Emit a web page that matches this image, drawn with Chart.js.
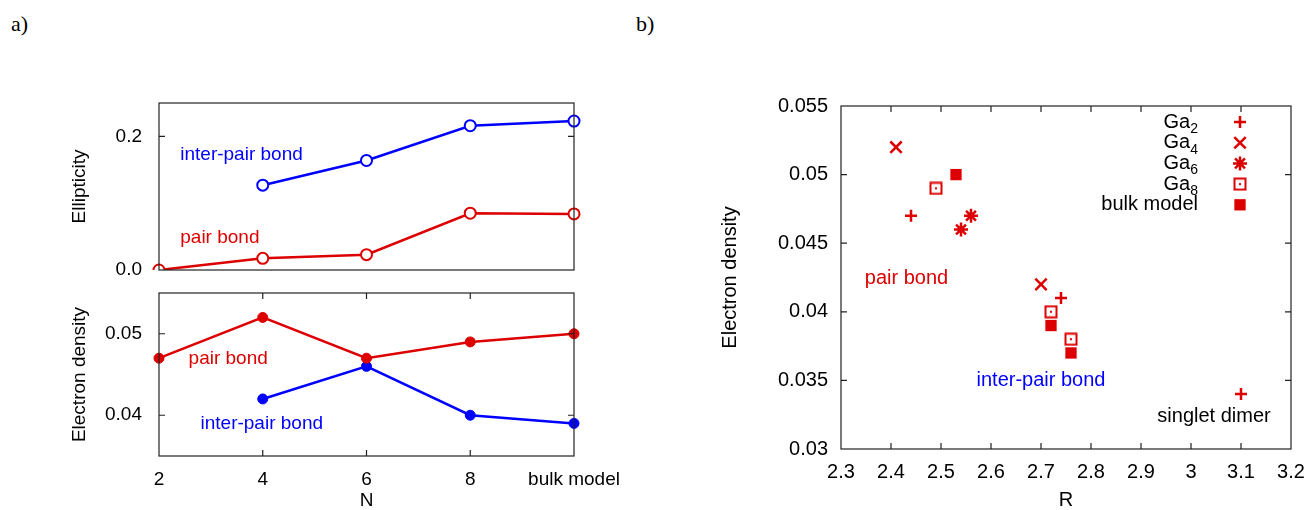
<!DOCTYPE html>
<html>
<head>
<meta charset="utf-8">
<script src="https://cdn.jsdelivr.net/npm/chart.js@4/dist/chart.umd.min.js"></script>
<style>
  body { margin: 0; background: #fff; width: 1308px; height: 510px; overflow: hidden; position: relative; }
  canvas { position: absolute; }
  .tag { position: absolute; font-family: "Liberation Serif", serif; font-size: 22px; color: #000; }
</style>
</head>
<body>
<div class="tag" style="left:11px;top:11px">a)</div>
<div class="tag" style="left:636px;top:11px">b)</div>
<canvas id="ell" width="640" height="200" style="left:0;top:80px"></canvas>
<canvas id="dens" width="640" height="230" style="left:0;top:280px"></canvas>
<canvas id="scat" width="658" height="430" style="left:650px;top:80px"></canvas>
<script>
// cluster size N (last one is the bulk model)
var sizes = ["2", "4", "6", "8", "bulk model"];

// a) top: ellipticity
var ellPair  = [0.0, 0.0175, 0.023, 0.085, 0.084];
var ellInter = [null, 0.127, 0.164, 0.216, 0.223];

// a) bottom: electron density
var densPair  = [0.047, 0.052, 0.047, 0.049, 0.050];
var densInter = [null, 0.042, 0.046, 0.040, 0.039];

// b) electron density vs bond length R
var ga2R  = [2.44, 2.74, 3.10];   var ga2Rho  = [0.047, 0.041, 0.034];
var ga4R  = [2.41, 2.70];         var ga4Rho  = [0.052, 0.042];
var ga6R  = [2.54, 2.56];         var ga6Rho  = [0.046, 0.047];
var ga8R  = [2.49, 2.72, 2.76];   var ga8Rho  = [0.049, 0.040, 0.038];
var bulkR = [2.53, 2.72, 2.76];   var bulkRho = [0.050, 0.039, 0.037];

var ellTicks = [0.0, 0.2];
var densTicks = [0.04, 0.05];
var rTicks = [2.3, 2.4, 2.5, 2.6, 2.7, 2.8, 2.9, 3.0, 3.1, 3.2];
var rhoTicks = [0.03, 0.035, 0.04, 0.045, 0.05, 0.055];

var red = "#dd0000";
var blue = "#0000ff";

Chart.defaults.font.family = "'Liberation Sans', Arial, sans-serif";
Chart.defaults.color = "#000";

function pts(xs, ys) {
  return xs.map(function (x, i) { return {x: x, y: ys[i]}; });
}

// hollow square with a dot in the middle (gnuplot look)
function dotSquare() {
  var c = document.createElement("canvas");
  c.width = 14; c.height = 14;
  var g = c.getContext("2d");
  g.strokeStyle = red; g.lineWidth = 2;
  g.strokeRect(1.5, 1.5, 11, 11);
  g.fillStyle = red;
  g.fillRect(6, 6, 2, 2);
  return c;
}

// fixed axis sizes, and no extra label padding so the plot box lands where we want
function fixW(w) {
  return function (s) { s.width = w; s.paddingTop = 0; s.paddingBottom = 0; };
}
function fixH(h) {
  return function (s) { s.height = h; s.paddingLeft = 0; s.paddingRight = 0; };
}
function useTicks(list) {
  return function (s) { s.ticks = list.map(function (v) { return {value: v}; }); };
}

// box around the plot + small ticks pointing inwards on all sides
var framePlugin = {
  id: "frame",
  afterDraw: function (chart) {
    var ctx = chart.ctx, a = chart.chartArea;
    var o = chart.options.plugins.frame || {};
    ctx.save();
    ctx.strokeStyle = "#222";
    ctx.lineWidth = 1.2;
    ctx.beginPath();
    var len = 6;
    if (o.xTicks) {
      var xs = chart.scales.x;
      o.xTicks.forEach(function (v) {
        var px = xs.getPixelForValue(v);
        if (px <= a.left + 1 || px >= a.right - 1) return;
        ctx.moveTo(px, a.bottom); ctx.lineTo(px, a.bottom - len);
        ctx.moveTo(px, a.top); ctx.lineTo(px, a.top + len);
      });
    }
    if (o.yTicks) {
      var ys = chart.scales.y;
      o.yTicks.forEach(function (v) {
        var py = ys.getPixelForValue(v);
        if (py <= a.top + 1 || py >= a.bottom - 1) return;
        ctx.moveTo(a.left, py); ctx.lineTo(a.left + len, py);
        ctx.moveTo(a.right, py); ctx.lineTo(a.right - len, py);
      });
    }
    ctx.stroke();
    ctx.strokeRect(a.left, a.top, a.right - a.left, a.bottom - a.top);
    ctx.restore();
  }
};

// text labels placed in data coordinates
var notesPlugin = {
  id: "notes",
  afterDatasetsDraw: function (chart) {
    var list = (chart.options.plugins.notes || {}).items || [];
    var ctx = chart.ctx;
    ctx.save();
    list.forEach(function (n) {
      ctx.font = (n.size || 19) + "px 'Liberation Sans', Arial, sans-serif";
      ctx.fillStyle = n.color;
      ctx.textAlign = n.align || "left";
      ctx.textBaseline = "middle";
      ctx.fillText(n.text, chart.scales.x.getPixelForValue(n.x), chart.scales.y.getPixelForValue(n.y));
    });
    ctx.restore();
  }
};

// gnuplot style key: right aligned label, marker to its right
var keyPlugin = {
  id: "key",
  afterDatasetsDraw: function (chart) {
    var o = chart.options.plugins.key;
    if (!o) return;
    var ctx = chart.ctx, a = chart.chartArea;
    var subs = "₀₁₂₃₄₅₆₇₈₉";
    var big = o.size + "px 'Liberation Sans', Arial, sans-serif";
    var small = Math.round(o.size * 0.7) + "px 'Liberation Sans', Arial, sans-serif";
    ctx.save();
    chart.data.datasets.forEach(function (ds, i) {
      var y = a.top + o.top + i * o.step;
      var base = "", sub = "";
      for (var k = 0; k < ds.label.length; k++) {
        var ch = ds.label[k], idx = subs.indexOf(ch);
        if (idx >= 0) sub += String(idx); else base += ch;
      }
      ctx.fillStyle = "#000";
      ctx.textBaseline = "middle";
      ctx.textAlign = "left";
      ctx.font = big;
      var wb = ctx.measureText(base).width;
      ctx.font = small;
      var ws = sub ? ctx.measureText(sub).width : 0;
      var x0 = a.right - o.textRight - wb - ws;
      ctx.font = big;
      ctx.fillText(base, x0, y);
      if (sub) {
        ctx.font = small;
        ctx.fillText(sub, x0 + wb, y + 7);
      }
      ctx.strokeStyle = ds.borderColor;
      ctx.fillStyle = ds.backgroundColor;
      ctx.lineWidth = ds.borderWidth;
      Chart.helpers.drawPoint(ctx, {
        pointStyle: ds.pointStyle, radius: ds.pointRadius, rotation: 0, borderWidth: ds.borderWidth
      }, a.right - o.markRight, y);
    });
    ctx.restore();
  }
};

Chart.register(framePlugin, notesPlugin, keyPlugin);

var tickFontL = {size: 19};

// ---- a) top ----
new Chart("ell", {
  type: "line",
  data: {
    labels: sizes,
    datasets: [
      {label: "pair bond", data: ellPair, borderColor: red, borderWidth: 2.5,
       pointStyle: "circle", pointRadius: 5.5, pointBorderWidth: 2, pointBackgroundColor: "#fff", pointBorderColor: red},
      {label: "inter-pair bond", data: ellInter, borderColor: blue, borderWidth: 2.5,
       pointStyle: "circle", pointRadius: 5.5, pointBorderWidth: 2, pointBackgroundColor: "#fff", pointBorderColor: blue}
    ]
  },
  options: {
    responsive: false, animation: false,
    layout: {padding: {left: 70, right: 66, top: 23, bottom: 10}},
    plugins: {
      legend: {display: false}, tooltip: {enabled: false},
      frame: {yTicks: ellTicks},
      notes: {items: [
        {text: "inter-pair bond", x: 0.205, y: 0.173, color: blue},
        {text: "pair bond", x: 0.205, y: 0.049, color: red}
      ]}
    },
    scales: {
      x: {display: false, offset: false},
      y: {
        min: 0, max: 0.25,
        afterFit: fixW(89),
        afterBuildTicks: useTicks(ellTicks),
        grid: {display: false, drawTicks: false}, border: {display: false},
        ticks: {padding: 17, font: tickFontL, callback: function (v) { return v.toFixed(1); }},
        title: {display: true, text: "Ellipticity", font: {size: 19, lineHeight: 1}, padding: 0}
      }
    }
  }
});

// ---- a) bottom ----
new Chart("dens", {
  type: "line",
  data: {
    labels: sizes,
    datasets: [
      {label: "pair bond", data: densPair, borderColor: red, borderWidth: 2.5,
       pointStyle: "circle", pointRadius: 5, pointBorderWidth: 1, pointBackgroundColor: red, pointBorderColor: red},
      {label: "inter-pair bond", data: densInter, borderColor: blue, borderWidth: 2.5,
       pointStyle: "circle", pointRadius: 5, pointBorderWidth: 1, pointBackgroundColor: blue, pointBorderColor: blue}
    ]
  },
  options: {
    responsive: false, animation: false,
    layout: {padding: {left: 70, right: 66, top: 13, bottom: 0}},
    plugins: {
      legend: {display: false}, tooltip: {enabled: false},
      frame: {xTicks: [1, 2, 3], yTicks: densTicks},
      notes: {items: [
        {text: "pair bond", x: 0.285, y: 0.0469, color: red},
        {text: "inter-pair bond", x: 0.40, y: 0.0390, color: blue}
      ]}
    },
    scales: {
      x: {
        offset: false,
        afterFit: fixH(54),
        grid: {display: false, drawTicks: false}, border: {display: false},
        ticks: {padding: 12, font: tickFontL, autoSkip: false, maxRotation: 0},
        title: {display: true, text: "N", font: {size: 19, lineHeight: 1}, padding: 0}
      },
      y: {
        min: 0.035, max: 0.055,
        afterFit: fixW(89),
        afterBuildTicks: useTicks(densTicks),
        grid: {display: false, drawTicks: false}, border: {display: false},
        ticks: {padding: 17, font: tickFontL, callback: function (v) { return v.toFixed(2); }},
        title: {display: true, text: "Electron density", font: {size: 19, lineHeight: 1}, padding: 0}
      }
    }
  }
});

// ---- b) scatter ----
new Chart("scat", {
  type: "scatter",
  data: {
    datasets: [
      {label: "Ga₂", data: pts(ga2R, ga2Rho), pointStyle: "cross", pointRadius: 6,
       borderColor: red, backgroundColor: red, borderWidth: 2.5},
      {label: "Ga₄", data: pts(ga4R, ga4Rho), pointStyle: "crossRot", pointRadius: 8,
       borderColor: red, backgroundColor: red, borderWidth: 2.5},
      {label: "Ga₆", data: pts(ga6R, ga6Rho), pointStyle: "star", pointRadius: 7,
       borderColor: red, backgroundColor: red, borderWidth: 2.5},
      {label: "Ga₈", data: pts(ga8R, ga8Rho), pointStyle: dotSquare(), pointRadius: 7,
       borderColor: red, backgroundColor: red, borderWidth: 2},
      {label: "bulk model", data: pts(bulkR, bulkRho), pointStyle: "rect", pointRadius: 8,
       borderColor: red, backgroundColor: red, borderWidth: 0}
    ]
  },
  options: {
    responsive: false, animation: false,
    layout: {padding: {left: 70, right: 17, top: 26, bottom: 0}},
    plugins: {
      legend: {display: false}, tooltip: {enabled: false},
      frame: {xTicks: rTicks, yTicks: rhoTicks},
      key: {top: 16, step: 20.7, textRight: 93, markRight: 51, size: 20},
      notes: {items: [
        {text: "pair bond", x: 2.431, y: 0.0424, color: red, align: "center", size: 20},
        {text: "inter-pair bond", x: 2.70, y: 0.0350, color: blue, align: "center", size: 20},
        {text: "singlet dimer", x: 3.046, y: 0.0324, color: "#000", align: "center", size: 20}
      ]}
    },
    scales: {
      x: {
        type: "linear", min: 2.3, max: 3.2,
        afterFit: fixH(61),
        afterBuildTicks: useTicks(rTicks),
        grid: {display: false, drawTicks: false}, border: {display: false},
        ticks: {padding: 11, font: {size: 20}, callback: function (v) { return String(Math.round(v * 10) / 10); }},
        title: {display: true, text: "R", font: {size: 20, lineHeight: 1}, padding: 0}
      },
      y: {
        min: 0.03, max: 0.055,
        afterFit: fixW(121),
        afterBuildTicks: useTicks(rhoTicks),
        grid: {display: false, drawTicks: false}, border: {display: false},
        ticks: {padding: 13, font: {size: 20}, callback: function (v) { return String(Math.round(v * 1000) / 1000); }},
        title: {display: true, text: "Electron density", font: {size: 20, lineHeight: 1}, padding: 0}
      }
    }
  }
});
</script>
</body>
</html>
